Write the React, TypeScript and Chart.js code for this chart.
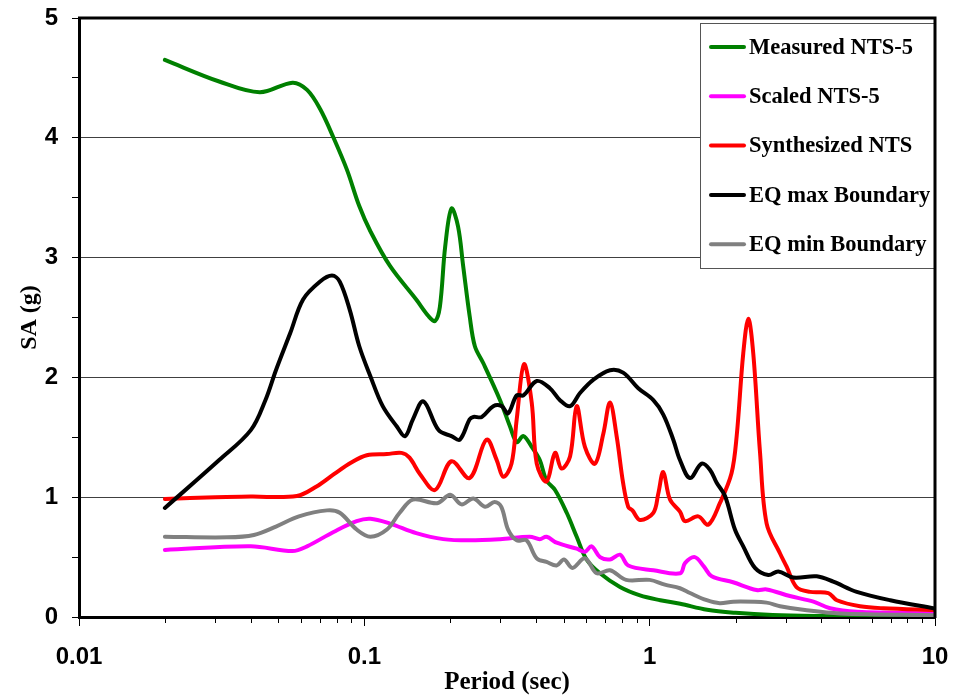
import React, { useEffect, useRef } from 'react';
import { Chart, registerables } from 'chart.js';

Chart.register(...registerables);

// Spectral acceleration SA (g) against period T (sec), one pair of arrays per series.
const measuredT = [0.02, 0.031, 0.043, 0.056, 0.063, 0.07, 0.078, 0.087, 0.096, 0.105, 0.123, 0.152, 0.168, 0.177, 0.184, 0.192, 0.202, 0.213, 0.222, 0.234, 0.244, 0.261, 0.299, 0.324, 0.342, 0.361, 0.386, 0.412, 0.435, 0.466, 0.512, 0.555, 0.601, 0.67, 0.787, 0.925, 1.09, 1.28, 1.59, 2.0, 2.7, 4.0, 6.0, 10];
const measuredSA = [4.65, 4.47, 4.38, 4.46, 4.40, 4.24, 4.0, 3.73, 3.43, 3.22, 2.93, 2.65, 2.51, 2.47, 2.59, 3.09, 3.41, 3.26, 2.93, 2.51, 2.26, 2.12, 1.81, 1.59, 1.46, 1.51, 1.42, 1.31, 1.14, 1.06, 0.87, 0.67, 0.48, 0.365, 0.25, 0.18, 0.14, 0.11, 0.06, 0.035, 0.017, 0.008, 0.004, 0.002];

const scaledT = [0.02, 0.04, 0.056, 0.063, 0.078, 0.094, 0.105, 0.123, 0.152, 0.189, 0.234, 0.299, 0.38, 0.412, 0.435, 0.472, 0.555, 0.593, 0.626, 0.67, 0.726, 0.787, 0.841, 1.03, 1.28, 1.33, 1.44, 1.55, 1.65, 1.96, 2.37, 2.57, 3.1, 3.75, 4.29, 5.32, 10];
const scaledSA = [0.56, 0.59, 0.55, 0.59, 0.71, 0.80, 0.82, 0.78, 0.70, 0.65, 0.64, 0.65, 0.67, 0.65, 0.67, 0.62, 0.57, 0.545, 0.59, 0.50, 0.48, 0.52, 0.43, 0.39, 0.365, 0.45, 0.50, 0.42, 0.34, 0.29, 0.225, 0.23, 0.175, 0.128, 0.073, 0.044, 0.03];

const synthT = [0.02, 0.03, 0.04, 0.058, 0.068, 0.078, 0.09, 0.102, 0.12, 0.135, 0.144, 0.157, 0.177, 0.202, 0.234, 0.268, 0.291, 0.307, 0.328, 0.342, 0.3625, 0.386, 0.402, 0.435, 0.466, 0.491, 0.526, 0.555, 0.593, 0.643, 0.688, 0.726, 0.766, 0.807, 0.841, 0.87, 0.925, 1.03, 1.072, 1.116, 1.178, 1.277, 1.33, 1.48, 1.604, 1.762, 1.936, 2.018, 2.128, 2.217, 2.307, 2.437, 2.57, 2.864, 3.02, 3.27, 3.65, 4.23, 4.53, 5.46, 6.59, 10];
const synthSA = [0.985, 1.0, 1.005, 1.01, 1.09, 1.19, 1.29, 1.35, 1.36, 1.37, 1.33, 1.19, 1.06, 1.30, 1.16, 1.48, 1.31, 1.17, 1.28, 1.65, 2.11, 1.79, 1.28, 1.13, 1.37, 1.24, 1.34, 1.76, 1.42, 1.28, 1.53, 1.79, 1.51, 1.12, 0.92, 0.89, 0.81, 0.87, 1.03, 1.21, 0.98, 0.88, 0.80, 0.84, 0.77, 0.95, 1.20, 1.51, 2.20, 2.49, 2.20, 1.37, 0.78, 0.53, 0.42, 0.25, 0.21, 0.20, 0.14, 0.09, 0.073, 0.058];

const eqMaxT = [0.02, 0.031, 0.04, 0.045, 0.049, 0.055, 0.061, 0.07, 0.077, 0.082, 0.089, 0.096, 0.105, 0.116, 0.13, 0.139, 0.148, 0.161, 0.182, 0.202, 0.216, 0.234, 0.241, 0.258, 0.283, 0.303, 0.319, 0.342, 0.361, 0.402, 0.447, 0.485, 0.526, 0.57, 0.634, 0.726, 0.807, 0.912, 1.03, 1.116, 1.21, 1.277, 1.384, 1.521, 1.626, 1.717, 1.837, 1.99, 2.128, 2.339, 2.606, 2.824, 3.187, 3.85, 4.4, 5.32, 6.97, 10];
const eqMaxSA = [0.91, 1.31, 1.56, 1.81, 2.06, 2.37, 2.65, 2.80, 2.85, 2.80, 2.56, 2.26, 2.01, 1.76, 1.59, 1.51, 1.65, 1.80, 1.56, 1.51, 1.48, 1.65, 1.67, 1.67, 1.76, 1.76, 1.70, 1.85, 1.85, 1.97, 1.91, 1.81, 1.76, 1.87, 1.98, 2.06, 2.04, 1.91, 1.81, 1.69, 1.48, 1.31, 1.16, 1.28, 1.23, 1.12, 1.01, 0.73, 0.59, 0.41, 0.35, 0.38, 0.33, 0.34, 0.295, 0.21, 0.14, 0.07];

const eqMinT = [0.02, 0.033, 0.041, 0.049, 0.059, 0.074, 0.082, 0.094, 0.105, 0.12, 0.133, 0.148, 0.18, 0.2, 0.219, 0.241, 0.265, 0.286, 0.302, 0.319, 0.342, 0.37, 0.402, 0.435, 0.472, 0.501, 0.536, 0.593, 0.652, 0.726, 0.827, 1.0, 1.13, 1.277, 1.384, 1.585, 1.76, 1.963, 2.57, 2.864, 3.5, 4.64, 10];
const eqMinSA = [0.67, 0.665, 0.685, 0.755, 0.84, 0.89, 0.87, 0.73, 0.67, 0.73, 0.87, 0.98, 0.95, 1.02, 0.94, 0.99, 0.92, 0.96, 0.92, 0.73, 0.64, 0.64, 0.49, 0.46, 0.43, 0.48, 0.41, 0.49, 0.365, 0.39, 0.31, 0.31, 0.27, 0.24, 0.20, 0.14, 0.115, 0.128, 0.12, 0.09, 0.058, 0.03, 0.015];

const seriesLabels = ['Measured NTS-5', 'Scaled NTS-5', 'Synthesized NTS', 'EQ max Boundary', 'EQ min Boundary'];
const seriesColors = ['#008000', '#FF00FF', '#FF0000', '#000000', '#808080'];

const xTickValues = [0.01, 0.1, 1, 10];
const xTickLabels = ['0.01', '0.1', '1', '10'];
const yTickLabels = ['0', '1', '2', '3', '4', '5'];

const SERIF = '"Liberation Serif", "Times New Roman", serif';
const SANS = '"Liberation Sans", Arial, sans-serif';

const zip = (t: number[], v: number[]) => t.map((x, i) => ({ x, y: v[i] }));

// Minor period ticks, the boxed legend and the top/right frame of the plot.
const framePlugin = {
  id: 'frame',
  afterDraw(chart: any) {
    const { ctx, chartArea: a, scales } = chart;
    const xs = scales.x;
    ctx.save();

    ctx.strokeStyle = '#000';
    ctx.lineWidth = 1;
    for (let e = -2; e < 1; e++) {
      for (let m = 2; m <= 9; m++) {
        const px = Math.round(xs.getPixelForValue(m * Math.pow(10, e))) + 0.5;
        ctx.beginPath();
        ctx.moveTo(px, a.bottom);
        ctx.lineTo(px, a.bottom + 6);
        ctx.stroke();
      }
    }

    const boxW = 235;
    const boxH = 245;
    const bx = a.right - boxW;
    const by = a.top + 5;
    ctx.fillStyle = '#fff';
    ctx.fillRect(bx, by, boxW, boxH);
    ctx.strokeStyle = '#555';
    ctx.lineWidth = 1;
    ctx.strokeRect(Math.round(bx) + 0.5, Math.round(by) + 0.5, boxW, boxH);
    ctx.font = `bold 22.5px ${SERIF}`;
    ctx.textBaseline = 'middle';
    ctx.textAlign = 'left';
    chart.data.datasets.forEach((ds: any, i: number) => {
      const ry = by + 24 + i * 49.3;
      ctx.strokeStyle = ds.borderColor;
      ctx.lineWidth = 4;
      ctx.lineCap = 'round';
      ctx.beginPath();
      ctx.moveTo(bx + 11, ry);
      ctx.lineTo(bx + 44, ry);
      ctx.stroke();
      ctx.fillStyle = '#000';
      ctx.fillText(ds.label, bx + 49, ry + 1);
    });

    ctx.strokeStyle = '#000';
    ctx.lineWidth = 3;
    ctx.lineCap = 'butt';
    ctx.beginPath();
    ctx.moveTo(a.left - 1, a.top);
    ctx.lineTo(a.right, a.top);
    ctx.lineTo(a.right, a.bottom + 1);
    ctx.stroke();
    ctx.restore();
  },
};

export default function App() {
  const canvasRef = useRef<HTMLCanvasElement | null>(null);

  useEffect(() => {
    const canvas = canvasRef.current;
    if (!canvas) return;
    const series = [
      zip(measuredT, measuredSA),
      zip(scaledT, scaledSA),
      zip(synthT, synthSA),
      zip(eqMaxT, eqMaxSA),
      zip(eqMinT, eqMinSA),
    ];
    const chart = new Chart(canvas, {
      type: 'scatter',
      data: {
        datasets: series.map((data, i) => ({
          label: seriesLabels[i],
          data,
          showLine: true,
          borderColor: seriesColors[i],
          backgroundColor: seriesColors[i],
          borderWidth: 4,
          pointRadius: 0,
          pointHoverRadius: 0,
          tension: 0.35,
          fill: false,
          borderCapStyle: 'round',
          borderJoinStyle: 'round',
          order: series.length - i,
        })),
      },
      options: {
        responsive: false,
        animation: false,
        devicePixelRatio: 1,
        layout: { padding: { top: 18, right: 19, left: 0, bottom: 0 } },
        plugins: {
          legend: { display: false },
          tooltip: { enabled: false },
        },
        scales: {
          x: {
            type: 'logarithmic',
            min: 0.01,
            max: 10,
            afterBuildTicks: (axis: any) => {
              axis.ticks = xTickValues.map((value) => ({ value }));
            },
            afterFit: (axis: any) => {
              axis.height = 81;
              axis.paddingLeft = 0;
              axis.paddingRight = 0;
            },
            ticks: {
              autoSkip: false,
              maxRotation: 0,
              padding: 17,
              color: '#000',
              font: { family: SANS, size: 24, weight: 'bold' },
              callback: (value: any) => {
                const idx = xTickValues.findIndex((v) => Math.abs(v - Number(value)) < 1e-9);
                return idx >= 0 ? xTickLabels[idx] : '';
              },
            },
            grid: {
              display: true,
              drawOnChartArea: false,
              drawTicks: true,
              tickLength: 9,
              tickColor: '#000',
              lineWidth: 1,
            },
            border: { display: true, color: '#000', width: 3 },
            title: {
              display: true,
              text: 'Period (sec)',
              color: '#000',
              font: { family: SERIF, size: 25, weight: 'bold' },
              padding: { top: 0, bottom: 0 },
            },
          },
          y: {
            type: 'linear',
            min: 0,
            max: 5,
            afterFit: (axis: any) => {
              axis.width = 79;
              axis.paddingTop = 0;
              axis.paddingBottom = 0;
            },
            ticks: {
              stepSize: 0.5,
              padding: 14,
              color: '#000',
              font: { family: SANS, size: 24, weight: 'bold' },
              callback: (value: any) => {
                const v = Number(value);
                return Number.isInteger(v) ? yTickLabels[v] : '';
              },
            },
            grid: {
              drawTicks: true,
              tickLength: 7,
              tickColor: '#000',
              lineWidth: 1,
              color: (ctx: any) => {
                const v = ctx.tick ? ctx.tick.value : -1;
                return v > 0 && v < 5 && Number.isInteger(v) ? '#404040' : 'rgba(0,0,0,0)';
              },
            },
            border: { display: true, color: '#000', width: 3 },
            title: {
              display: true,
              text: 'SA (g)',
              color: '#000',
              font: { family: SERIF, size: 24, weight: 'bold' },
              padding: { top: 15, bottom: 0 },
            },
          },
        },
      },
      plugins: [framePlugin],
    } as any);
    return () => chart.destroy();
  }, []);

  return (
    <div style={{ position: 'absolute', left: 0, top: 0, width: 954, height: 698, background: '#fff' }}>
      <canvas ref={canvasRef} width={954} height={698} style={{ display: 'block', width: 954, height: 698 }} />
    </div>
  );
}
